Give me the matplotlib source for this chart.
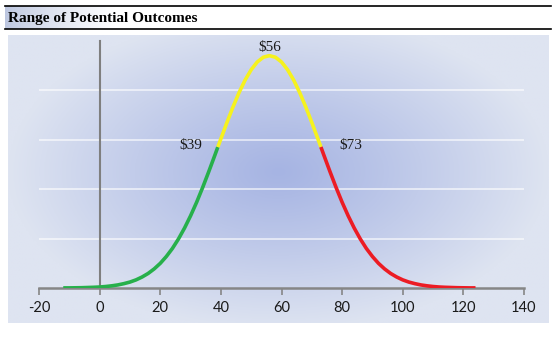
import matplotlib
matplotlib.use("Agg")
import matplotlib.pyplot as plt
import numpy as np

# Outcome values (x) and relative likelihood (y, per-mille density)
outcome = [-12, -10, -8, -6, -4, -2, 0, 2, 4, 6, 8, 10, 12, 14, 16, 18, 20, 22, 24,
           26, 28, 30, 32, 34, 36, 38, 39, 40, 42, 44, 46, 48, 50, 52, 54, 56, 58,
           60, 62, 64, 66, 68, 70, 72, 73, 74, 76, 78, 80, 82, 84, 86, 88, 90, 92,
           94, 96, 98, 100, 102, 104, 106, 108, 110, 112, 114, 116, 118, 120, 122, 124]
likelihood = [0.01, 0.01, 0.02, 0.03, 0.05, 0.07, 0.10, 0.15, 0.22, 0.31, 0.44, 0.60,
              0.82, 1.11, 1.47, 1.93, 2.49, 3.18, 3.99, 4.95, 6.05, 7.29, 8.66, 10.16,
              11.75, 13.40, 14.24, 15.07, 16.72, 18.29, 19.74, 21.01, 22.05, 22.83,
              23.31, 23.47, 23.31, 22.83, 22.05, 21.01, 19.74, 18.29, 16.72, 15.07,
              14.24, 13.40, 11.75, 10.16, 8.66, 7.29, 6.05, 4.95, 3.99, 3.18, 2.49,
              1.93, 1.47, 1.11, 0.82, 0.60, 0.44, 0.31, 0.22, 0.15, 0.10, 0.07, 0.05,
              0.03, 0.02, 0.01, 0.01]

low_value = 39
mid_value = 56
high_value = 73
x_ticks = [-20, 0, 20, 40, 60, 80, 100, 120, 140]
title = "Range of Potential Outcomes"

W, H = 555, 339
fig = plt.figure(figsize=(W / 100, H / 100), dpi=100)
fig.patch.set_facecolor("white")

def px_box(x0, y0, x1, y1):
    # pixel box (top-left origin) -> figure fraction rect
    return [x0 / W, 1 - y1 / H, (x1 - x0) / W, (y1 - y0) / H]

# title band with soft gradient fading to white
tax = fig.add_axes(px_box(5, 6, 551, 29))
band = np.linspace(0, 1, 400)
band = np.clip(band / 0.2, 0, 1) ** 0.8
c0 = np.array([188, 198, 224]) / 255
c1 = np.array([1.0, 1.0, 1.0])
img = c0[None, :] + (c1 - c0)[None, :] * band[:, None]
tax.imshow(img[None, :, :], aspect="auto", extent=[0, 1, 0, 1])
tax.set_xlim(0, 1)
tax.set_ylim(0, 1)
tax.axis("off")
tax.text(0.005, 0.45, title, fontsize=11, fontweight="bold",
         family="Liberation Serif", va="center", ha="left")
fig.add_artist(plt.Line2D([5 / W, 551 / W], [1 - 6 / H, 1 - 6 / H], color="black", lw=1.2))
fig.add_artist(plt.Line2D([5 / W, 551 / W], [1 - 29 / H, 1 - 29 / H], color="black", lw=1.2))

# chart area background: radial blue gradient
bax = fig.add_axes(px_box(8, 35, 549, 323))
gx, gy = np.meshgrid(np.linspace(-1, 1, 400), np.linspace(-1, 1, 220))
cx, cy = 0.0, -0.05
r = np.sqrt(((gx - cx) / 1.0) ** 2 + ((gy - cy) / 1.1) ** 2)
t = np.clip(r, 0, 1) ** 1.1
inner = np.array([166, 180, 227]) / 255
outer = np.array([222, 228, 241]) / 255
bg = inner[None, None, :] + (outer - inner)[None, None, :] * t[:, :, None]
bax.imshow(bg, aspect="auto", extent=[0, 1, 0, 1])
bax.axis("off")

# main plot
ax = fig.add_axes(px_box(39, 40.5, 524, 288))
ax.set_facecolor("none")
ax.set_xlim(-20, 140)
ax.set_ylim(0, 25)

ax.set_yticks([5, 10, 15, 20])
ax.yaxis.grid(True, color="white", alpha=0.6, lw=1.4)
ax.tick_params(axis="y", left=False, labelleft=False)

for s in ["top", "right"]:
    ax.spines[s].set_visible(False)
ax.spines["left"].set_position(("data", 0))
ax.spines["left"].set_color("#7f7f7f")
ax.spines["left"].set_linewidth(1.5)
ax.spines["bottom"].set_color("#868686")
ax.spines["bottom"].set_linewidth(1.8)

ax.set_xticks(x_ticks)
ax.set_xticklabels([str(v) for v in x_ticks], family="Lato", fontsize=10.5, color="#1a1a1a")
ax.tick_params(axis="x", direction="out", length=5, width=1.2, color="#868686", pad=4)

x = np.array(outcome)
y = np.array(likelihood)
lw = 2.6
m = x <= low_value
ax.plot(x[m], y[m], color="#27b04b", lw=lw, solid_capstyle="butt", zorder=3)
m = (x >= low_value) & (x <= high_value)
ax.plot(x[m], y[m], color="#f6f21e", lw=lw, solid_capstyle="butt", zorder=3)
m = x >= high_value
ax.plot(x[m], y[m], color="#ec1c24", lw=lw, solid_capstyle="butt", zorder=3)

def at(v):
    return y[list(outcome).index(v)]

lab = dict(family="Liberation Serif", fontsize=11, color="#1a1a1a")
ax.annotate(f"${low_value}", (low_value, at(low_value)), xytext=(-11, 1),
            textcoords="offset points", ha="right", va="center", **lab)
ax.annotate(f"${mid_value}", (mid_value, at(mid_value)), xytext=(0, 6),
            textcoords="offset points", ha="center", va="center", **lab)
ax.annotate(f"${high_value}", (high_value, at(high_value)), xytext=(13, 1),
            textcoords="offset points", ha="left", va="center", **lab)

fig.savefig("out.png", dpi=100)
